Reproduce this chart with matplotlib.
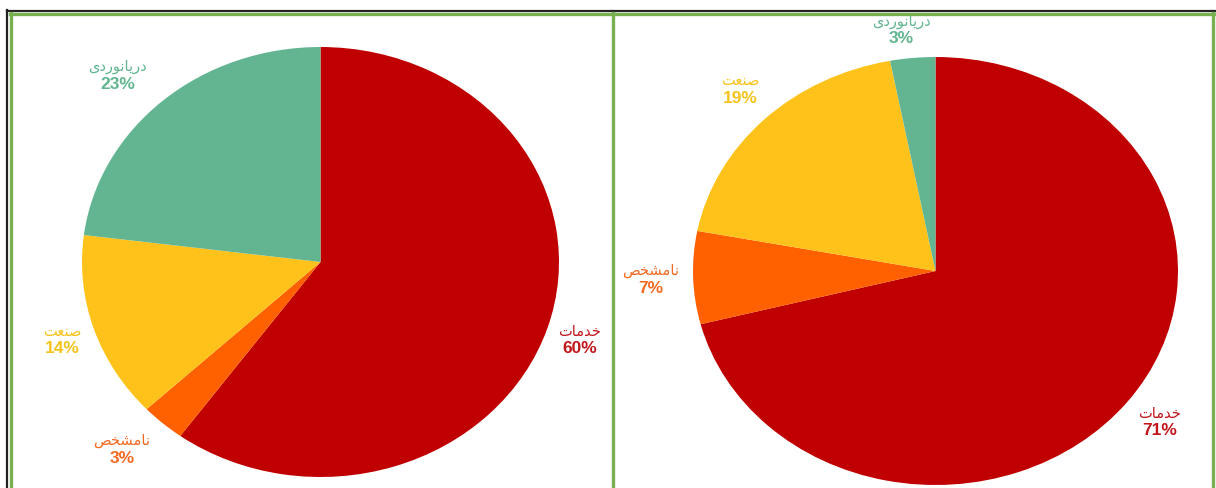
import matplotlib
matplotlib.use("Agg")
import matplotlib.pyplot as plt
from matplotlib.lines import Line2D

# Persian labels (pre-shaped presentation forms, visual order)
lbl_services = "\uFE95\uFE8E\uFEE3\uFEAA\uFEA7"          # خدمات
lbl_unknown = "\uFEBA\uFEA8\uFEB8\uFEE3\uFE8E\uFEE7"     # نامشخص
lbl_industry = "\uFE96\uFECC\uFEE8\uFEBB"                 # صنعت
lbl_maritime = "\uFEEF\uFEA9\uFEAD\uFEEE\uFEE7\uFE8E\uFEF3\uFEAD\uFEA9"  # دریانوردی

categories = [lbl_services, lbl_unknown, lbl_industry, lbl_maritime]
left_values = [60, 3, 14, 23]
right_values = [71, 7, 19, 3]

wedge_colors = ["#C00000", "#FF6000", "#FFC21A", "#63B592"]
label_colors = ["#C0161C", "#F26A22", "#F5C31C", "#62B58F"]

# label positions (in pie radius units), layout only
left_label_pos = [(1.088, -0.363), (-0.832, -0.874), (-1.084, -0.363), (-0.85, 0.865)]
right_label_pos = [(0.926, -0.706), (-1.173, -0.042), (-0.806, 0.846), (-0.142, 1.126)]

W, H = 1216, 488
fig = plt.figure(figsize=(W / 100, H / 100), dpi=100)
fig.patch.set_facecolor("white")


def px_axes(x0, y0, x1, y1):
    return fig.add_axes([x0 / W, 1 - y1 / H, (x1 - x0) / W, (y1 - y0) / H])


def draw_pie(ax, values, label_pos):
    ax.pie(values, colors=wedge_colors, startangle=90, counterclock=False,
           radius=1, wedgeprops=dict(linewidth=0))
    ax.set_aspect("auto")
    ax.set_xlim(-1, 1)
    ax.set_ylim(-1, 1)
    ax.axis("off")
    for cat, v, c, (x, y) in zip(categories, values, label_colors, label_pos):
        ax.annotate(cat, (x, y), xytext=(0, 6.5), textcoords="offset points",
                    color=c, ha="center", va="center", fontsize=10.5,
                    family=["DejaVu Sans"], annotation_clip=False)
        ax.annotate(f"{v}%", (x, y), xytext=(0, -6), textcoords="offset points",
                    color=c, ha="center", va="center", fontsize=12.5,
                    fontweight="bold", family=["Liberation Sans", "DejaVu Sans"],
                    annotation_clip=False)


ax1 = px_axes(82, 47, 559, 477)
draw_pie(ax1, left_values, left_label_pos)

ax2 = px_axes(693, 57, 1178, 485)
draw_pie(ax2, right_values, right_label_pos)


def fx(x):
    return x / W


def fy(y):
    return 1 - y / H


green = "#78B050"
# black outer frame lines
fig.add_artist(Line2D([fx(7), fx(1216)], [fy(10.5), fy(10.5)], color="#222222", lw=1.6))
fig.add_artist(Line2D([fx(7), fx(7)], [fy(10), fy(488)], color="#222222", lw=1.6))
# green panel borders
fig.add_artist(Line2D([fx(10), fx(1214)], [fy(14), fy(14)], color=green, lw=2.4))
fig.add_artist(Line2D([fx(11), fx(11)], [fy(13), fy(488)], color=green, lw=2.4))
fig.add_artist(Line2D([fx(613), fx(613)], [fy(13), fy(488)], color=green, lw=2.4))
fig.add_artist(Line2D([fx(1213), fx(1213)], [fy(13), fy(488)], color=green, lw=2.4))

fig.savefig("out.png", dpi=100, facecolor="white")
